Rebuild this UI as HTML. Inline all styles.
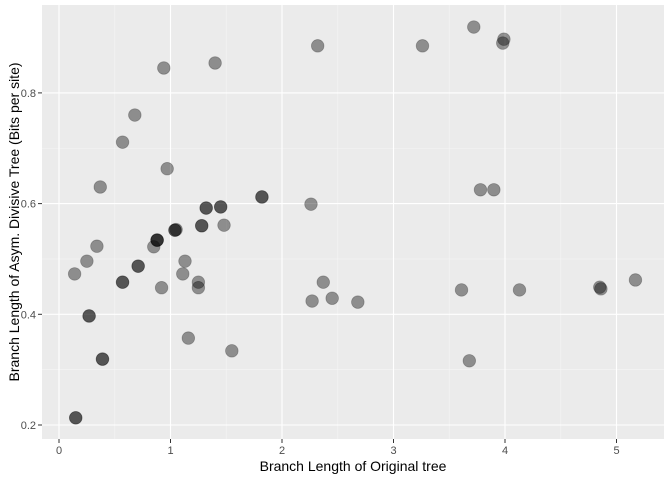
<!DOCTYPE html>
<html><head><meta charset="utf-8"><style>
html,body{margin:0;padding:0;background:#fff;}
svg text{font-family:"Liberation Sans",sans-serif;}
</style></head><body>
<svg id="chart" width="672" height="480">
<rect x="0" y="0" width="672" height="480" fill="#fff"/>
<rect x="42" y="5" width="622" height="434" fill="#EBEBEB"/>
<g id="grid"></g><g id="pts"></g><g id="axes"></g>
<text x="353" y="471" text-anchor="middle" font-size="14" fill="#000">Branch Length of Original tree</text>
<text transform="translate(19,222) rotate(-90)" text-anchor="middle" font-size="14" fill="#000">Branch Length of Asym. Divisive Tree (Bits per site)</text>
</svg>
<script>
const xTicks=[0,1,2,3,4,5];
const yTicks=[0.2,0.4,0.6,0.8];
const xMinor=[0.5,1.5,2.5,3.5,4.5];
const yMinor=[0.3,0.5,0.7];
const xVals=[0.15,0.27,0.39,0.14,0.25,0.34,0.37,0.57,0.68,0.57,0.94,0.97,0.85,0.88,0.92,0.71,1.04,1.05,1.11,1.13,1.16,1.28,1.32,1.25,1.25,1.40,1.45,1.48,1.55,1.82,2.26,2.32,2.27,2.37,2.45,2.68,3.26,3.72,3.61,3.68,3.78,3.90,3.98,3.99,4.13,4.85,4.86,5.17,
0.15,0.27,0.39,0.57,0.71,0.88,0.88,1.04,1.32,1.28,1.45,1.82];
const yVals=[0.213,0.397,0.319,0.473,0.496,0.523,0.630,0.711,0.760,0.458,0.845,0.663,0.522,0.534,0.448,0.487,0.552,0.553,0.473,0.496,0.357,0.560,0.592,0.458,0.448,0.854,0.594,0.561,0.334,0.612,0.599,0.885,0.424,0.458,0.429,0.422,0.885,0.919,0.444,0.316,0.625,0.625,0.890,0.897,0.444,0.449,0.446,0.462,
0.213,0.397,0.319,0.458,0.487,0.534,0.534,0.552,0.592,0.560,0.594,0.612];
const X=v=>59+v*111.5;
const Y=v=>425-(v-0.2)*553.5;
const NS="http://www.w3.org/2000/svg";
function mk(t,a,p){const e=document.createElementNS(NS,t);for(const k in a)e.setAttribute(k,a[k]);p.appendChild(e);return e;}
const g=document.getElementById('grid'),pg=document.getElementById('pts'),ax=document.getElementById('axes');
xMinor.forEach(v=>{const e=mk('line',{x1:X(v),x2:X(v),y1:5,y2:439,stroke:'#F5F5F5','stroke-width':0.6},g);

});
yMinor.forEach(v=>{const e=mk('line',{x1:42,x2:664,y1:Y(v),y2:Y(v),stroke:'#F5F5F5','stroke-width':0.6},g);

});
xTicks.forEach(v=>{const e=mk('line',{x1:X(v),x2:X(v),y1:5,y2:439,stroke:'#fff','stroke-width':1.1},g);


const t=mk('line',{x1:X(v),x2:X(v),y1:439,y2:443,stroke:'#333','stroke-width':1},ax);


const l=mk('text',{x:X(v),y:454,'text-anchor':'middle','font-size':11,fill:'#4D4D4D'},ax);l.textContent=v;

});
yTicks.forEach(v=>{const e=mk('line',{x1:42,x2:664,y1:Y(v),y2:Y(v),stroke:'#fff','stroke-width':1.1},g);


const t=mk('line',{x1:38,x2:42,y1:Y(v),y2:Y(v),stroke:'#333','stroke-width':1},ax);


const l=mk('text',{x:36,y:Y(v)+4,'text-anchor':'end','font-size':11,fill:'#4D4D4D'},ax);l.textContent=v.toFixed(1);

});
xVals.forEach((v,i)=>{const c=mk('circle',{cx:X(v),cy:Y(yVals[i]),r:6.3,fill:'#000','fill-opacity':0.4,stroke:'#000','stroke-opacity':0.25,'stroke-width':0.8},pg);

});
</script>
</body></html>
